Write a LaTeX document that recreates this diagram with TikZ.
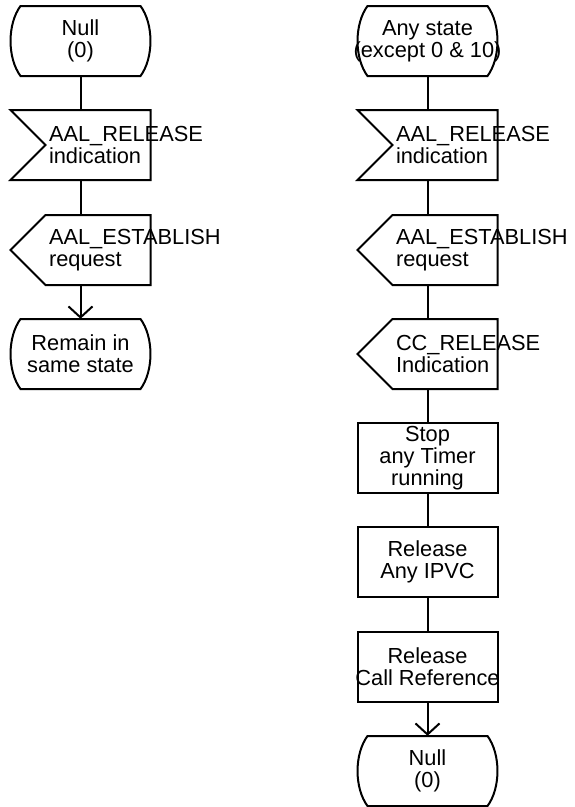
\documentclass[tikz,border=0pt]{standalone}
\usepackage{fontspec}
\setmainfont{Liberation Sans}
\usepackage{tikz}
\usetikzlibrary{arrows.meta}

\hyphenpenalty=10000
\exhyphenpenalty=10000

\tikzset{
  sdl/.style={minimum height=70pt, inner sep=0pt, font=\fontsize{21.8}{22}\selectfont},
  sdltext/.style={sdl, align=center},
  sdlsig/.style={sdl, text width=63pt, align=left},
  sdlline/.style={line width=2pt},
  sdlflow/.style={sdlline, -{Straight Barb[length=11pt,width=24pt]}}
}

\newcommand{\sdlstate}[1]{\draw[sdlline, shift={(#1.center)}] (-60,-35) -- (60,-35) .. controls (73.3,-17) and (73.3,17) .. (60,35) -- (-60,35) .. controls (-73.3,17) and (-73.3,-17) .. cycle;}
\newcommand{\sdlinput}[1]{\draw[sdlline, shift={(#1.center)}] (-70,-35) -- (70,-35) -- (70,35) -- (-70,35) -- (-35,0) -- cycle;}
\newcommand{\sdloutput}[1]{\draw[sdlline, shift={(#1.center)}] (-35,-35) -- (70,-35) -- (70,35) -- (-35,35) -- (-70,0) -- cycle;}
\newcommand{\sdltask}[1]{\draw[sdlline, shift={(#1.center)}] (-70,-35) rectangle (70,35);}

\begin{document}
\begin{tikzpicture}[x=1pt, y=-1pt]
        \useasboundingbox (0,0) rectangle (575,807);

        \node[sdltext] (null) at (80.5,41) {Null\\(0)};
        \node[sdlsig] (relind) at (80.5,145) {AAL\_RELEASE\\indication};
        \node[sdlsig] (estreq) at (80.5,250) {AAL\_ESTABLISH\\request};
        \node[sdltext] (remain) at (80.5,354) {Remain in\\same state};

        \node[sdltext] (any) at (427.5,41) {Any state\\(except 0 \& 10)};
        \node[sdlsig] (relindb) at (427.5,145) {AAL\_RELEASE\\indication};
        \node[sdlsig] (estreqb) at (427.5,250) {AAL\_ESTABLISH\\request};
        \node[sdlsig] (ccrel) at (427.5,354) {CC\_RELEASE\\Indication};
        \node[sdltext] (stoptimer) at (427.5,458) {Stop\\any Timer\\running};
        \node[sdltext] (relipvc) at (427.5,562) {Release\\Any IPVC};
        \node[sdltext] (relcref) at (427.5,667) {Release\\Call Reference};
        \node[sdltext] (nullb) at (427.5,771) {Null\\(0)};

        \sdlstate{null}
        \sdlinput{relind}
        \sdloutput{estreq}
        \sdlstate{remain}

        \sdlstate{any}
        \sdlinput{relindb}
        \sdloutput{estreqb}
        \sdloutput{ccrel}
        \sdltask{stoptimer}
        \sdltask{relipvc}
        \sdltask{relcref}
        \sdlstate{nullb}

        \draw[sdlline] (null.south) -- (relind.north);
        \draw[sdlline] (relind.south) -- (estreq.north);
        \draw[sdlflow] (estreq.south) -- (remain.north);

        \draw[sdlline] (any.south) -- (relindb.north);
        \draw[sdlline] (relindb.south) -- (estreqb.north);
        \draw[sdlline] (estreqb.south) -- (ccrel.north);
        \draw[sdlline] (ccrel.south) -- (stoptimer.north);
        \draw[sdlline] (stoptimer.south) -- (relipvc.north);
        \draw[sdlline] (relipvc.south) -- (relcref.north);
        \draw[sdlflow] (relcref.south) -- (nullb.north);
\end{tikzpicture}
\end{document}
